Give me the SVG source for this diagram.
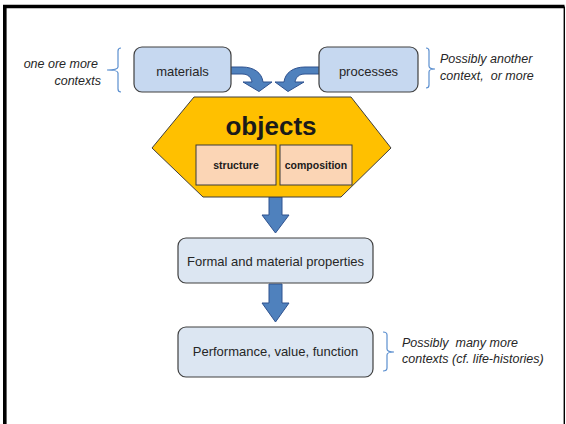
<svg xmlns="http://www.w3.org/2000/svg" width="566" height="424" viewBox="0 0 566 424">
  <style>
    .frame { fill: none; stroke: #000; }
    .box { stroke: #404040; stroke-width: 1.2; }
    .top { fill: #c6d8f0; }
    .low { fill: #dce6f2; }
    .sub { fill: #fbd5b5; stroke: #3a3a3a; stroke-width: 1; }
    .lbl { font-family: "Liberation Sans", Arial, sans-serif; font-size: 13px; fill: #262626; text-anchor: middle; }
    .note { font-family: "Liberation Sans", Arial, sans-serif; font-size: 12.5px; font-style: italic; fill: #262626; white-space: pre; }
    .bold { font-family: "Liberation Sans", Arial, sans-serif; font-weight: bold; fill: #1a1a1a; text-anchor: middle; }
    .brace { fill: none; stroke: #5b8fcf; stroke-width: 1.2; }
    .arrow { fill: #4f81bd; stroke: #2f528f; stroke-width: 1; stroke-linejoin: miter; }
  </style>

  <rect width="566" height="424" fill="#fff"/>

  <!-- slide frame: heavy left and top rule, thin right rule -->
  <path class="frame" d="M4.8,424 V6.5" stroke-width="3.6"/>
  <path class="frame" d="M3,6.5 H564.5" stroke-width="3.4"/>
  <path class="frame" d="M564.3,6.5 V424" stroke-width="1.4"/>

  <!-- connectors -->
  <g id="connectors">
    <!-- curved arrow from materials down into objects -->
    <path class="arrow" d="M218,67 H242 C254,67 262,73 263,82 H272 L259,91.5 L243,82 H252 C251,77 248,74 242,74 H218 Z"/>
    <!-- curved arrow from processes down into objects -->
    <path class="arrow" d="M329,67 H305 C293,67 285,73 284,82 H275 L288,91.5 L304,82 H295 C296,77 299,74 305,74 H329 Z"/>
    <!-- objects to formal and material properties -->
    <path class="arrow" d="M269,197 H282 V215 H289 L275.5,233 L262,215 H269 Z"/>
    <!-- properties to performance -->
    <path class="arrow" d="M269,284 H282 V303 H289 L275.5,322 L262,303 H269 Z"/>
  </g>

  <g id="materials">
    <rect class="box top" x="134" y="47" width="97" height="45" rx="8"/>
    <text class="lbl" x="182.5" y="76">materials</text>
  </g>

  <g id="processes">
    <rect class="box top" x="319" y="47" width="99" height="45" rx="8"/>
    <text class="lbl" x="368.5" y="76">processes</text>
  </g>

  <g id="context-left">
    <path class="brace" d="M121,48 Q118,48 118,51 V67 Q118,70 107,70 Q118,70 118,73 V89 Q118,92 121,92"/>
    <text class="note" x="98" y="68" text-anchor="end">one ore more</text>
    <text class="note" x="101" y="85" text-anchor="end">contexts</text>
  </g>

  <g id="context-right">
    <path class="brace" d="M426,48 Q429,48 429,51 V66 Q429,69 435,69 Q429,69 429,72 V85 Q429,88 426,88"/>
    <text class="note" x="440" y="63">Possibly another</text>
    <text class="note" x="440" y="80" xml:space="preserve">context,  or more</text>
  </g>

  <g id="objects">
    <polygon points="194,97 351,97 391,148 341,197 203,197 152,148" fill="#ffc000" stroke="#3f3f3f" stroke-width="1"/>
    <text class="bold" x="271" y="135" font-size="26">objects</text>
    <g id="structure">
      <rect class="sub" x="196" y="145" width="80" height="40"/>
      <text class="bold" x="236" y="169" font-size="10.5">structure</text>
    </g>
    <g id="composition">
      <rect class="sub" x="280" y="145" width="72" height="40"/>
      <text class="bold" x="316" y="169" font-size="10.5">composition</text>
    </g>
  </g>

  <g id="properties">
    <rect class="box low" x="178" y="238" width="195" height="45" rx="8"/>
    <text class="lbl" x="275.5" y="266">Formal and material properties</text>
  </g>

  <g id="performance">
    <rect class="box low" x="178" y="327" width="195" height="50" rx="8"/>
    <text class="lbl" x="275.5" y="356">Performance, value, function</text>
  </g>

  <g id="context-later">
    <path class="brace" d="M383,332 Q387,332 387,335 V349 Q387,352 394,352 Q387,352 387,355 V368 Q387,371 383,371"/>
    <text class="note" x="402" y="347" xml:space="preserve">Possibly  many more</text>
    <text class="note" x="402" y="363">contexts (cf. life-histories)</text>
  </g>
</svg>
